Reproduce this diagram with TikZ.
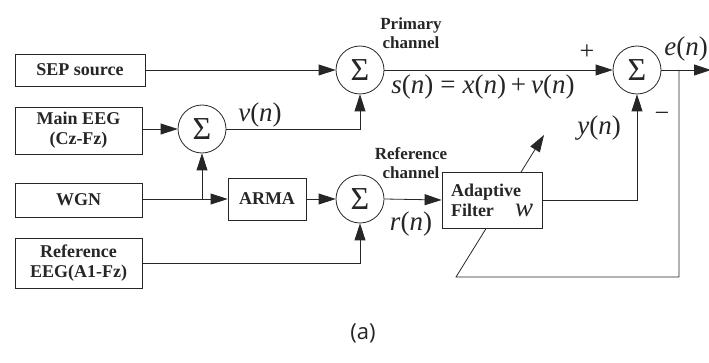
\documentclass[tikz,border=0pt]{standalone}
\usepackage{fontspec}
\setmainfont{Liberation Serif}
\newfontfamily\capfont{Open Sans}
\usetikzlibrary{arrows.meta,calc}
\pgfdeclarelayer{background}
\pgfsetlayers{background,main}
\begin{document}
\begin{tikzpicture}[x=1pt,y=-1pt,
  line width=0.8pt, color=black!85,
  wire/.style={line width=0.8pt, color=black!85},
  >={Triangle[length=17pt,width=11pt]},
  blk/.style={draw, fill=white, inner sep=0pt, font=\fontsize{18}{20}\selectfont\bfseries, align=center},
  summ/.style={draw, circle, fill=white, minimum size=48pt, inner sep=0pt, font=\fontsize{32}{32}\selectfont},
  sig/.style={font=\fontsize{27}{29}\selectfont, inner sep=0pt},
  note/.style={font=\fontsize{17}{19}\selectfont\bfseries, align=center, inner sep=0pt},
  sgn/.style={font=\fontsize{26}{26}\selectfont, inner sep=0pt}]
\useasboundingbox (0,0) rectangle (709,363);

% source blocks
\node[blk, minimum width=130pt, minimum height=32pt] (sep) at (80,70) {SEP source};
\node[blk, minimum width=127pt, minimum height=47pt] (eeg) at (78.5,130.5) {Main EEG\\(Cz-Fz)};
\node[blk, minimum width=127pt, minimum height=34pt] (wgn) at (78.5,200) {WGN};
\node[blk, minimum width=127pt, minimum height=50pt] (ref) at (78.5,263) {Reference\\EEG(A1-Fz)};
\node[blk, minimum width=78pt, minimum height=42pt] (arma) at (267,199) {ARMA};

% summing junctions
\node[summ] (s1) at (202,129) {Σ};
\node[summ] (s2) at (360,70) {Σ};
\node[summ] (s3) at (637,70) {Σ};
\node[summ] (s4) at (360,199) {Σ};

% adaptive filter
\node[blk, minimum width=100pt, minimum height=56pt] (filt) at (492,200) {};
\node[blk, draw=none, fill=none, anchor=west, align=left] (filtxt) at ($(filt.west)+(9,0)$) {Adaptive\\Filter};
\node[sig, anchor=center] (wlab) at (524,210) {\textit{w}};

% connectors
\draw[->] (sep.east) -- (s2.west);
\draw[->] (eeg.east |- s1.west) -- (s1.west);
\draw[->] (wgn.east |- arma.west) -- (arma.west);
\coordinate (br) at (s1.south |- arma.west);
\draw[->] (br) -- (s1.south);
\draw[->] (s1.east) -| (s2.south);
\draw[->] (arma.east) -- (s4.west);
\draw[->] (ref.east) -| (s4.south);
\draw[->] (s4.east) -- (filt.west);
\draw[->] (s2.east) -- (s3.west);
\draw[->] (filt.east) -| (s3.south);
\coordinate (eout) at (711,70);
\draw[->] (s3.east) -- (eout);
% error feedback to the adaptation arrow passing behind the filter block
\coordinate (fb) at (679,70);
\coordinate (adB) at (456,277);
\coordinate (adT) at (544,135);
\begin{pgfonlayer}{background}
\draw[wire, ->] (fb) |- (adB) -- (adT);
\end{pgfonlayer}

% signal labels
\node[sig] (vn) at (260,115) {\textit{v}(\textit{n})};
\node[sig] (sn) at (483,87) {\textit{s}(\textit{n})\hspace{7pt}=\hspace{7pt}\textit{x}(\textit{n})\hspace{5pt}+\hspace{5pt}\textit{v}(\textit{n})};
\node[sig] (yn) at (599,128) {\textit{y}(\textit{n})};
\node[sig] (rn) at (411,224) {\textit{r}(\textit{n})};
\node[sig, anchor=east] (en) at (708,49) {\textit{e}(\textit{n})};
\node[sgn] (plus) at (587,52) {+};
\node[sgn] (minus) at (662,117) {−};
\node[note] (prim) at (411,33) {Primary\\channel};
\node[note] (refch) at (411,163) {Reference\\channel};

\node[font=\capfont\fontsize{22}{24}\selectfont, inner sep=0pt] (cap) at (363,333) {(a)};
\end{tikzpicture}
\end{document}
